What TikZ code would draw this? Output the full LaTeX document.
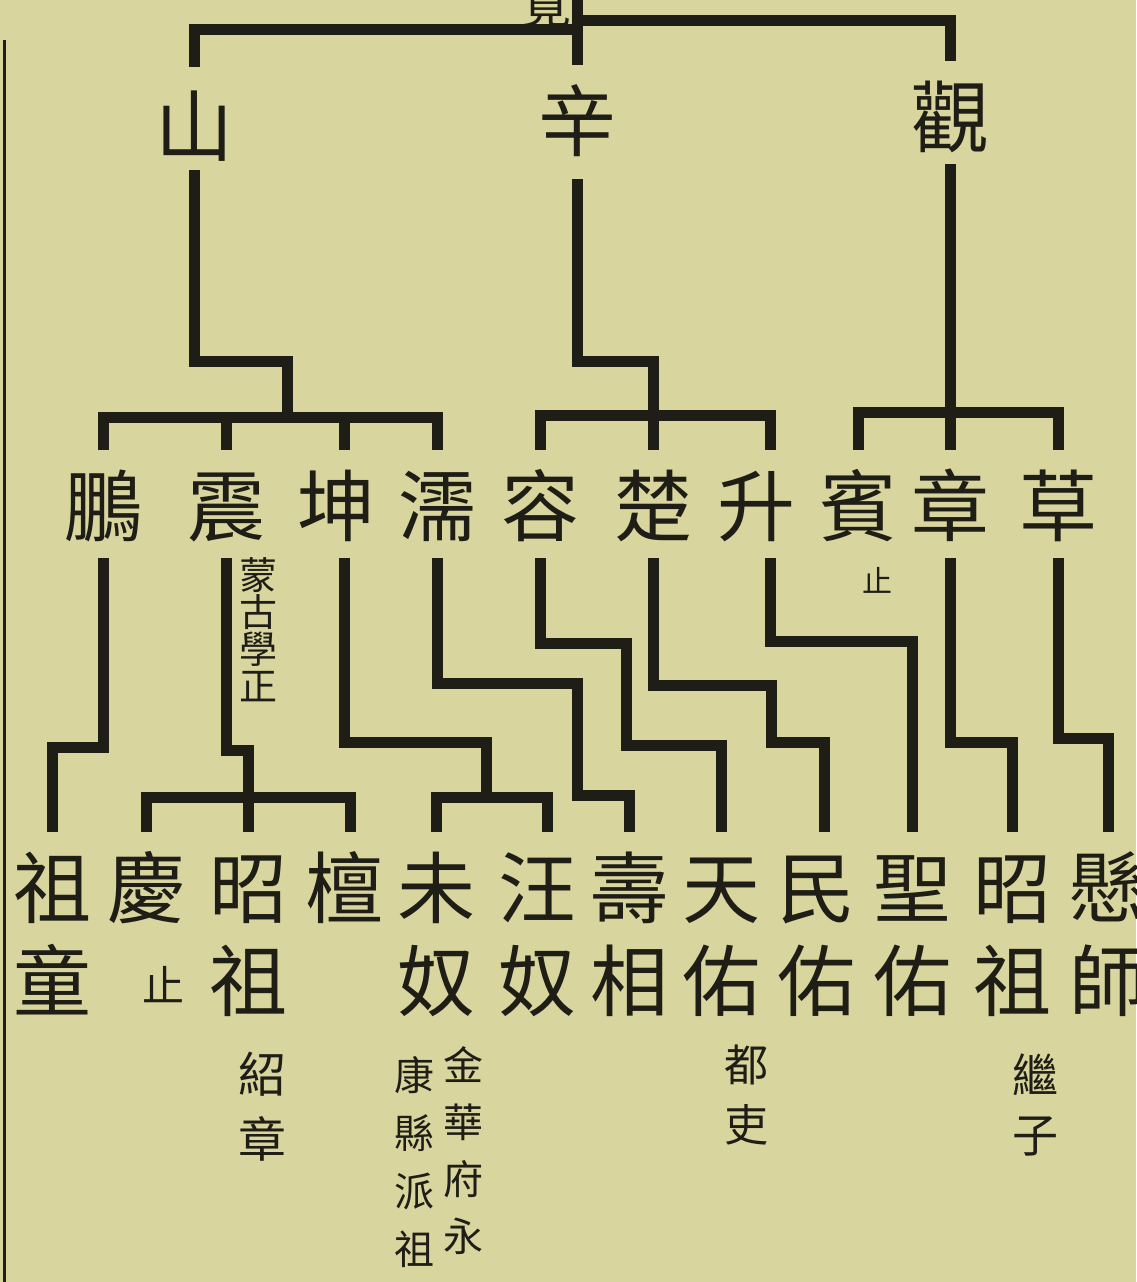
\documentclass[tikz,border=0pt]{standalone}
\usepackage{fontspec}
\newfontfamily\cjk{Noto Sans CJK TC}
\definecolor{paper}{RGB}{217,213,158}
\definecolor{ink}{RGB}{30,30,22}
\begin{document}
\begin{tikzpicture}[x=1pt,y=-1pt,
  conn/.style={draw=ink, line width=11pt, line cap=butt, line join=miter},
  big/.style={font=\cjk\fontsize{78}{78}\selectfont, text=ink, inner sep=0pt, text height=69pt, text depth=9pt},
  note/.style={text=ink, inner sep=0pt, align=center}]
\useasboundingbox (0,0) rectangle (1136,1282);
\clip (0,0) rectangle (1136,1282);
\fill[paper] (0,0) rectangle (1136,1282);
% left frame line
\draw[ink, line width=3pt] (4,40) -- (4,1282);

% generation 1 (cut at top)
\node[note, font=\cjk\fontsize{50}{50}\selectfont] (mi) at (546,5) {覓};
\coordinate (top) at (577,-8);

% generation 2
\node[big] (shan) at (194,125) {山};
\node[big] (xin) at (577,120) {辛};
\node[big] (guan) at (950,116) {觀};

% generation 3
\node[big] (peng) at (103,505) {鵬};
\node[big] (zhen) at (226,505) {震};
\node[big] (kun) at (336,505) {坤};
\node[big] (ru) at (437,505) {濡};
\node[big] (rong) at (540,505) {容};
\node[big] (chu) at (653,505) {楚};
\node[big] (sheng) at (756,505) {升};
\node[big] (bin) at (858,505) {賓};
\node[big] (zhang) at (950,505) {章};
\node[big] (cao) at (1058,505) {草};
\node[note, font=\cjk\fontsize{30}{30}\selectfont] (binzhi) at (877,580) {止};
\node[note, font=\cjk\fontsize{38}{37}\selectfont] (meng) at (258,630) {蒙\\古\\學\\正};

% generation 4
\node[big] (zu1) at (52,887) {祖};
\node[big] (tong) at (52,980) {童};
\node[big] (qing) at (146,887) {慶};
\node[note, font=\cjk\fontsize{42}{42}\selectfont] (qingzhi) at (163,985) {止};
\node[big] (zhao1) at (248,887) {昭};
\node[big] (zu2) at (248,980) {祖};
\node[big] (tan) at (344,887) {檀};
\node[big] (wei) at (436,887) {未};
\node[big] (nu1) at (436,980) {奴};
\node[big] (wang) at (537,887) {汪};
\node[big] (nu2) at (537,980) {奴};
\node[big] (shou) at (629,887) {壽};
\node[big] (xiang) at (629,980) {相};
\node[big] (tian) at (721,887) {天};
\node[big] (you1) at (721,980) {佑};
\node[big] (min) at (816,887) {民};
\node[big] (you2) at (816,980) {佑};
\node[big] (sheng2) at (912,887) {聖};
\node[big] (you3) at (912,980) {佑};
\node[big] (zhao2) at (1012,887) {昭};
\node[big] (zu3) at (1012,980) {祖};
\node[big] (xuan) at (1108,887) {懸};
\node[big] (shi) at (1108,980) {師};

% annotations under generation 4
\node[note, font=\cjk\fontsize{48}{65}\selectfont] (shaozhang) at (262,1107) {紹\\章};
\node[note, font=\cjk\fontsize{40}{57}\selectfont] (jinhua) at (463,1151) {金\\華\\府\\永};
\node[note, font=\cjk\fontsize{40}{58}\selectfont] (kangxian) at (414,1162) {康\\縣\\派\\祖};
\node[note, font=\cjk\fontsize{44}{60}\selectfont] (duli) at (746,1095) {都\\吏};
\node[note, font=\cjk\fontsize{46}{60}\selectfont] (jizi) at (1035,1105) {繼\\子};

% connectors: generation 1 -> 2
\draw[conn] (top) -- ([yshift=16pt]xin.north);
\draw[conn] ([yshift=19pt]shan.north) |- (577,29);
\draw[conn] ([yshift=16pt]guan.north) |- (577,20);

% generation 2 -> 3
\draw[conn] ([yshift=-6pt]shan.south) |- (287,361) -- (287,417);
\draw[conn] ([yshift=16pt]peng.north) |- (287,417) -| ([yshift=16pt]ru.north);
\draw[conn] ([yshift=16pt]zhen.north) -- (226,417);
\draw[conn] ([xshift=8pt,yshift=16pt]kun.north) -- (344,417);

\draw[conn] ([yshift=-20pt]xin.south) |- (653,361) -- (653,415);
\draw[conn] ([yshift=16pt]rong.north) |- (653,415) -| ([xshift=14pt,yshift=16pt]sheng.north);
\draw[conn] (653,415) -- ([yshift=16pt]chu.north);

\draw[conn] ([yshift=-9pt]guan.south) -- ([yshift=16pt]zhang.north);
\draw[conn] ([yshift=16pt]bin.north) |- (950,412) -| ([yshift=16pt]cao.north);

% generation 3 -> 4
\draw[conn] ([yshift=-14pt]peng.south) |- (52,747) -- ([yshift=16pt]zu1.north);
\draw[conn] ([yshift=-14pt]zhen.south) |- (248,750) -- (248,797);
\draw[conn] ([yshift=16pt]qing.north) |- (248,797) -| ([xshift=6pt,yshift=16pt]tan.north);
\draw[conn] (248,797) -- ([yshift=16pt]zhao1.north);
\draw[conn] ([xshift=8pt,yshift=-14pt]kun.south) |- (486,742) -- (486,797);
\draw[conn] ([yshift=16pt]wei.north) |- (486,797) -| ([xshift=10pt,yshift=16pt]wang.north);
\draw[conn] ([yshift=-14pt]ru.south) |- (577,683) -- (577,795) -| ([yshift=16pt]shou.north);
\draw[conn] ([yshift=-14pt]rong.south) |- (626,643) -- (626,745) -| ([yshift=16pt]tian.north);
\draw[conn] ([yshift=-14pt]chu.south) |- (771,685) -- (771,742) -| ([xshift=8pt,yshift=16pt]min.north);
\draw[conn] ([xshift=14pt,yshift=-14pt]sheng.south) |- (912,641) -- ([yshift=16pt]sheng2.north);
\draw[conn] ([yshift=-14pt]zhang.south) |- (1012,742) -- ([yshift=16pt]zhao2.north);
\draw[conn] ([yshift=-14pt]cao.south) |- (1108,738) -- ([yshift=16pt]xuan.north);
\end{tikzpicture}
\end{document}
